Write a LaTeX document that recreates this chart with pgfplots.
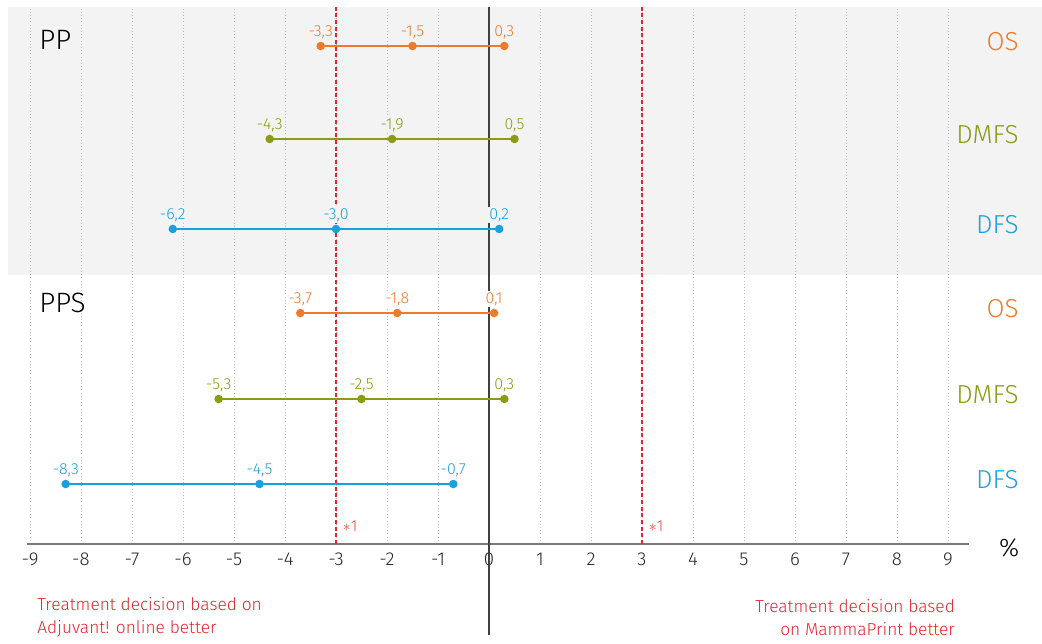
\documentclass[border=0pt]{standalone}
\usepackage{fontspec}
\setmainfont{Fira Sans Light}
\usepackage{pgfplots}
\pgfplotsset{compat=1.18}
\definecolor{cOS}{HTML}{EE7A2A}
\definecolor{cDMFS}{HTML}{8C9A14}
\definecolor{cDFS}{HTML}{1AA0DF}
\definecolor{cRed}{HTML}{E3262C}
\definecolor{cBand}{HTML}{F3F3F3}
\definecolor{cGrid}{HTML}{BDBDBD}
\definecolor{cZero}{HTML}{404040}
\definecolor{cAxis}{HTML}{7A7A7A}
\tikzset{catlab/.style={anchor=east, inner sep=0pt, font=\fontsize{19.5}{20}\selectfont},
  vlab/.style={anchor=center, yshift=10.5pt, inner sep=1pt, font=\fontsize{12}{13}\selectfont}}
\begin{document}
\begin{tikzpicture}
\begin{axis}[
  scale only axis, width=781.5pt, height=482.25pt,
  xmin=-9.588, xmax=10.843, ymin=-0.99, ymax=5.44,
  axis x line=middle, axis y line=none,
  x axis line style={draw=none},
  xtick={-9,...,9}, major tick length=0pt,
  xticklabel style={font=\fontsize{14}{15}\selectfont, text=black!85, anchor=north, yshift=-3pt},
  /pgf/number format/assume math mode=true,
  clip=false,
  every axis plot/.append style={line width=1.5pt, mark=*, mark size=2.4pt,
     nodes near coords={\pgfmathprintnumber[fixed,fixed zerofill,precision=1,use comma,assume math mode=true]{\pgfplotspointmeta}},
     point meta=x},
]
\coordinate (bl) at (rel axis cs:0,0);
\coordinate (tr) at (rel axis cs:1,1);
% background band for PP
\fill[cBand] (axis cs:-9.43,2.69) rectangle (axis cs:10.843,5.37);
% grid
\pgfplotsinvokeforeach{-9,...,9}{
  \draw[cGrid, line width=0.6pt, dash pattern=on 0.8pt off 1.6pt] (axis cs:#1,0) -- (axis cs:#1,5.37);
}
% x axis line
\draw[cAxis, line width=0.9pt] (axis cs:-9.06,0) -- (axis cs:9.41,0);
% reference lines
\draw[cRed, line width=1.1pt, dash pattern=on 3pt off 2pt] (axis cs:-3,0) -- (axis cs:-3,5.37);
\draw[cRed, line width=1.1pt, dash pattern=on 3pt off 2pt] (axis cs:3,0) -- (axis cs:3,5.37);
\draw[cZero, line width=1.7pt] (axis cs:0,-0.91) -- (axis cs:0,5.37);

% PP
\addplot[cOS, every node near coord/.style={vlab, fill=cBand}]
  coordinates {(-3.3,4.98) (-1.5,4.98) (0.3,4.98)};
\addplot[cDMFS, every node near coord/.style={vlab, fill=cBand}]
  coordinates {(-4.3,4.05) (-1.9,4.05) (0.5,4.05)};
\addplot[cDFS, every node near coord/.style={vlab, fill=cBand}]
  coordinates {(-6.2,3.15) (-3.0,3.15) (0.2,3.15)};
% PPS
\addplot[cOS, every node near coord/.style={vlab, fill=white}]
  coordinates {(-3.7,2.31) (-1.8,2.31) (0.1,2.31)};
\addplot[cDMFS, every node near coord/.style={vlab, fill=white}]
  coordinates {(-5.3,1.45) (-2.5,1.45) (0.3,1.45)};
\addplot[cDFS, every node near coord/.style={vlab, fill=white}]
  coordinates {(-8.3,0.60) (-4.5,0.60) (-0.7,0.60)};

% group labels
\node[anchor=west, inner sep=0pt, font=\fontsize{21}{22}\selectfont] at (axis cs:-8.82,5.04) {PP};
\node[anchor=west, inner sep=0pt, font=\fontsize{21}{22}\selectfont] at (axis cs:-8.82,2.41) {PPS};
% category labels
\node[catlab, text=cOS] at (axis cs:10.39,5.02) {OS};
\node[catlab, text=cDMFS] at (axis cs:10.39,4.09) {DMFS};
\node[catlab, text=cDFS] at (axis cs:10.39,3.19) {DFS};
\node[catlab, text=cOS] at (axis cs:10.39,2.35) {OS};
\node[catlab, text=cDMFS] at (axis cs:10.39,1.49) {DMFS};
\node[catlab, text=cDFS] at (axis cs:10.39,0.64) {DFS};
% percent
\node[font=\fontsize{19}{20}\selectfont] at (axis cs:10.2,-0.04) {\%};
% *1 markers
\node[text=cRed!85, font=\fontsize{12}{13}\selectfont] at (axis cs:-2.72,0.18) {$\ast$1};
\node[text=cRed!85, font=\fontsize{12}{13}\selectfont] at (axis cs:3.28,0.18) {$\ast$1};
% bottom notes
\node[anchor=base west, text=cRed, font=\fontsize{13}{14}\selectfont, inner sep=0pt] at (axis cs:-8.86,-0.66) {Treatment decision based on};
\node[anchor=base west, text=cRed, font=\fontsize{13}{14}\selectfont, inner sep=0pt] at (axis cs:-8.86,-0.89) {Adjuvant! online better};
\node[anchor=base east, text=cRed, font=\fontsize{13}{14}\selectfont, inner sep=0pt] at (axis cs:9.14,-0.68) {Treatment decision based};
\node[anchor=base east, text=cRed, font=\fontsize{13}{14}\selectfont, inner sep=0pt] at (axis cs:9.14,-0.91) {on MammaPrint better};
\end{axis}
\pgfresetboundingbox
\path[use as bounding box] (bl) rectangle (tr);
\end{tikzpicture}
\end{document}
